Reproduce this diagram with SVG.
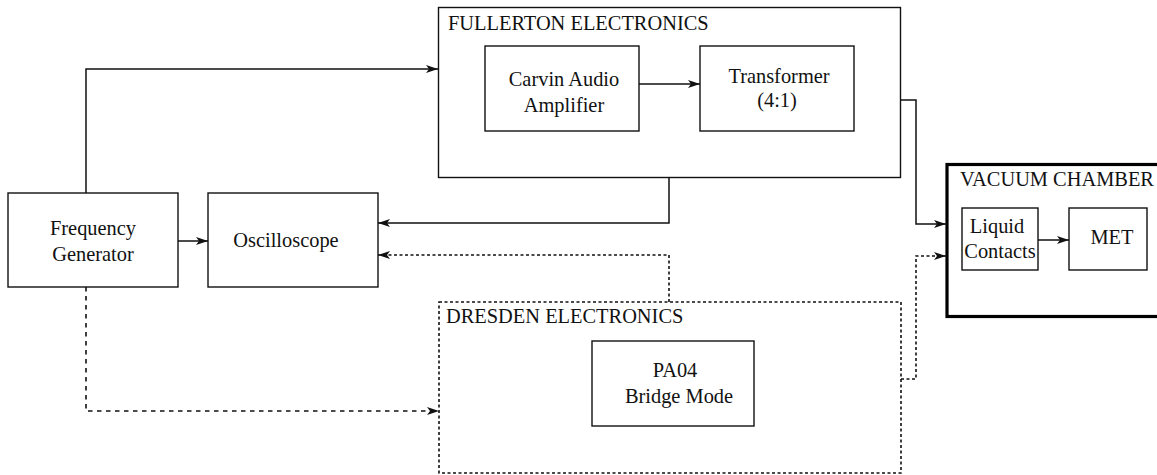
<svg xmlns="http://www.w3.org/2000/svg" width="1157" height="475" viewBox="0 0 1157 475">
<style>
text{font-family:"Liberation Serif","Times New Roman",serif;font-size:20.4px;fill:#111}
.c{text-anchor:middle}
.box{fill:#fff;stroke:#111;stroke-width:1.4}
.grp{fill:none;stroke:#111;stroke-width:1.4}
.dot{fill:none;stroke:#111;stroke-width:1.6;stroke-dasharray:3 2.5}
.vac{fill:none;stroke:#000;stroke-width:3.2}
.ln{fill:none;stroke:#111;stroke-width:1.5}
.dash{fill:none;stroke:#111;stroke-width:1.6;stroke-dasharray:4.5 4.5}
</style>
<defs>
<marker id="ah" viewBox="0 0 12 8" refX="12" refY="4" markerWidth="12" markerHeight="8" markerUnits="userSpaceOnUse" orient="auto">
<path d="M0,0 L12,4 L0,8 L3,4 z" fill="#111"/>
</marker>
</defs>
<g id="fullerton">
<rect class="grp" x="438.5" y="7.5" width="462" height="170"/>
<text x="448" y="30">FULLERTON ELECTRONICS</text>
</g>
<g id="carvin">
<rect class="box" x="485" y="46" width="154" height="85"/>
<text class="c" x="564" y="86">Carvin Audio</text>
<text class="c" x="564" y="112">Amplifier</text>
</g>
<g id="transformer">
<rect class="box" x="700" y="46" width="154" height="85"/>
<text class="c" x="779" y="83">Transformer</text>
<text class="c" x="777" y="107">(4:1)</text>
</g>
<g id="freqgen">
<rect class="box" x="8" y="193" width="170" height="94"/>
<text class="c" x="93" y="235">Frequency</text>
<text class="c" x="93" y="261">Generator</text>
</g>
<g id="oscilloscope">
<rect class="box" x="208" y="193" width="170" height="94"/>
<text class="c" x="286" y="247">Oscilloscope</text>
</g>
<g id="dresden">
<rect class="dot" x="439" y="302" width="462" height="171"/>
<text x="446" y="323">DRESDEN ELECTRONICS</text>
</g>
<g id="pa04">
<rect class="box" x="592" y="341" width="162" height="85"/>
<text class="c" x="675" y="377">PA04</text>
<text class="c" x="679" y="403">Bridge Mode</text>
</g>
<g id="vacuum">
<rect class="vac" x="947" y="164.5" width="220" height="152"/>
<text x="960" y="186">VACUUM CHAMBER</text>
</g>
<g id="liquid">
<rect class="box" x="962" y="208" width="76" height="62"/>
<text class="c" x="997" y="233">Liquid</text>
<text class="c" x="1000" y="258">Contacts</text>
</g>
<g id="met">
<rect class="box" x="1069" y="208" width="78" height="62"/>
<text class="c" x="1112" y="244">MET</text>
</g>
<g id="connectors">
<path class="ln" d="M86,193 V69 H438" marker-end="url(#ah)"/>
<path class="ln" d="M178,241 H208" marker-end="url(#ah)"/>
<path class="ln" d="M639,84 H700" marker-end="url(#ah)"/>
<path class="ln" d="M669,177 V223 H378" marker-end="url(#ah)"/>
<path class="ln" d="M901,100 H916 V224 H946" marker-end="url(#ah)"/>
<path class="ln" d="M1038,240 H1069" marker-end="url(#ah)"/>
<path class="dot" d="M669,302 V255 H378" marker-end="url(#ah)"/>
<path class="dot" d="M901,379 H916 V256 H946" marker-end="url(#ah)"/>
<path class="dash" d="M86,287 V411 H439" marker-end="url(#ah)"/>
</g>
</svg>
